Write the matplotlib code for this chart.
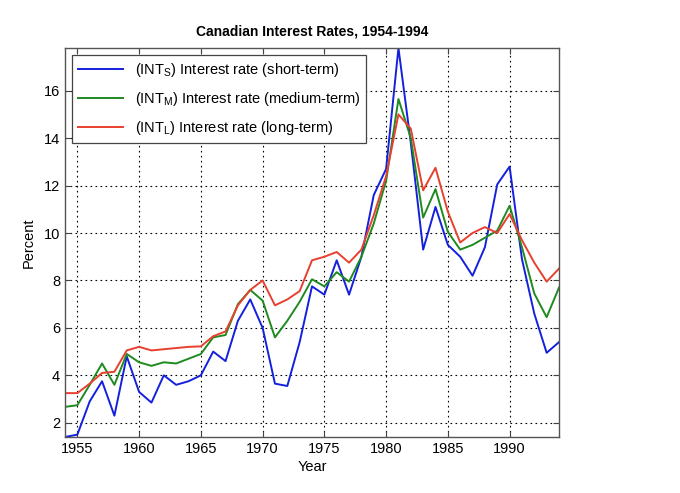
import matplotlib
matplotlib.use("Agg")
import matplotlib.pyplot as plt

years = list(range(1954, 1995))

short_term = [1.4, 1.5, 2.9, 3.75, 2.3, 4.8, 3.3, 2.85, 4.0, 3.6,
              3.75, 4.0, 5.0, 4.6, 6.3, 7.2, 6.0, 3.65, 3.55, 5.4,
              7.75, 7.4, 8.85, 7.4, 9.0, 11.6, 12.7, 17.8, 13.8, 9.3,
              11.1, 9.5, 9.0, 8.2, 9.4, 12.05, 12.8, 8.9, 6.6, 4.95,
              5.4]
medium_term = [2.67, 2.74, 3.6, 4.5, 3.6, 4.9, 4.55, 4.4, 4.55, 4.5,
               4.7, 4.9, 5.6, 5.7, 7.0, 7.6, 7.15, 5.6, 6.3, 7.1,
               8.05, 7.75, 8.35, 7.95, 9.0, 10.4, 12.2, 15.65, 14.0, 10.65,
               11.85, 10.05, 9.3, 9.5, 9.8, 10.1, 11.15, 9.4, 7.45, 6.45,
               7.7]
long_term = [3.25, 3.25, 3.65, 4.1, 4.15, 5.05, 5.2, 5.05, 5.1, 5.15,
             5.2, 5.22, 5.65, 5.85, 6.95, 7.6, 8.0, 6.95, 7.2, 7.55,
             8.85, 9.0, 9.2, 8.75, 9.3, 10.75, 12.4, 15.0, 14.4, 11.8,
             12.75, 10.9, 9.6, 10.0, 10.25, 10.0, 10.8, 9.7, 8.75, 7.95,
             8.5]

labels = [r"(INT$_\mathregular{S}$) Interest rate (short-term)",
          r"(INT$_\mathregular{M}$) Interest rate (medium-term)",
          r"(INT$_\mathregular{L}$) Interest rate (long-term)"]
colors = ["#1420dc", "#1f8a1f", "#e8402e"]
xticks = list(range(1955, 1995, 5))
yticks = list(range(2, 17, 2))


def main():
    plt.rcParams["font.family"] = ["Liberation Sans", "DejaVu Sans"]
    plt.rcParams["mathtext.fontset"] = "custom"
    plt.rcParams["mathtext.rm"] = "Liberation Sans"

    fig = plt.figure(figsize=(6.8, 4.93), dpi=100)
    ax = fig.add_axes([65 / 680, 1 - 437 / 493, 494 / 680, 389 / 493])

    for series, label, color in zip((short_term, medium_term, long_term), labels, colors):
        ax.plot(years, series, color=color, lw=1.4, label=label)

    ax.set_xlim(1954, 1994)
    ax.set_ylim(min(short_term), max(short_term))
    ax.set_xticks(xticks)
    ax.set_yticks(yticks)
    ax.grid(True, color="black", linestyle=(0, (1.5, 3)), linewidth=0.8)
    ax.tick_params(direction="in", top=True, right=True, length=4,
                   labelsize=10.5, color="#444444")
    for spine in ax.spines.values():
        spine.set_color("#555555")
        spine.set_linewidth(1.0)

    ax.set_title("Canadian Interest Rates, 1954-1994", fontsize=10,
                 fontweight="bold", pad=9)
    ax.set_xlabel("Year", fontsize=10.5, labelpad=3)
    ax.set_ylabel("Percent", fontsize=10.5, labelpad=6)

    leg = ax.legend(loc="upper left", fontsize=10.5, fancybox=False,
                    framealpha=1, edgecolor="#444444", handlelength=3.1,
                    labelspacing=0.75, borderaxespad=0.5)
    leg.get_frame().set_linewidth(0.9)

    fig.savefig("out.png", dpi=100)


if __name__ == "__main__":

    main()
